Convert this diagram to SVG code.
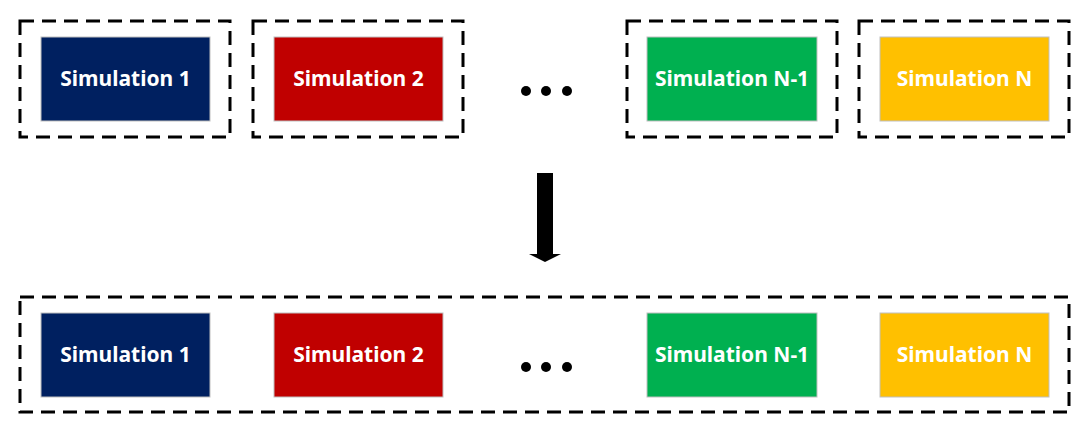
<svg xmlns="http://www.w3.org/2000/svg" width="1090" height="433" viewBox="0 0 1090 433">
<style>
.dash{fill:none;stroke:#000;stroke-width:3;stroke-dasharray:14,8}
.n{stroke:#bfbfbf;stroke-width:1}
.t{font-family:"Noto Sans","Liberation Sans",sans-serif;font-weight:bold;font-size:21px;fill:#fff;text-anchor:middle;dominant-baseline:central}
</style>
<rect width="1090" height="433" fill="#fff"/>
<g id="groups">
<rect class="dash" x="20" y="21" width="210" height="116"/>
<rect class="dash" x="253" y="21" width="210" height="116"/>
<rect class="dash" x="627" y="21" width="210" height="116"/>
<rect class="dash" x="859" y="21" width="210" height="116"/>
<rect class="dash" x="20" y="297" width="1049" height="115"/>
</g>
<g id="top1"><rect class="n" x="41" y="37" width="169" height="84" fill="#002060"/><text class="t" x="125.5" y="78">Simulation 1</text></g>
<g id="top2"><rect class="n" x="274" y="37" width="169" height="84" fill="#c00000"/><text class="t" x="358.5" y="78">Simulation 2</text></g>
<g id="top3"><rect class="n" x="647" y="37" width="170" height="84" fill="#00b050"/><text class="t" x="732" y="78">Simulation N-1</text></g>
<g id="top4"><rect class="n" x="880" y="37" width="169" height="84" fill="#ffc000"/><text class="t" x="964.5" y="78">Simulation N</text></g>
<g id="bot1"><rect class="n" x="41" y="313" width="169" height="84" fill="#002060"/><text class="t" x="125.5" y="354">Simulation 1</text></g>
<g id="bot2"><rect class="n" x="274" y="313" width="169" height="84" fill="#c00000"/><text class="t" x="358.5" y="354">Simulation 2</text></g>
<g id="bot3"><rect class="n" x="647" y="313" width="170" height="84" fill="#00b050"/><text class="t" x="732" y="354">Simulation N-1</text></g>
<g id="bot4"><rect class="n" x="880" y="313" width="169" height="84" fill="#ffc000"/><text class="t" x="964.5" y="354">Simulation N</text></g>
<g id="dots" fill="#000">
<circle cx="526" cy="91" r="5"/><circle cx="546" cy="91" r="5"/><circle cx="567" cy="91" r="5"/>
<circle cx="526" cy="367" r="5"/><circle cx="546" cy="367" r="5"/><circle cx="567" cy="367" r="5"/>
</g>
<g id="connectors">
<polygon points="537,173 553,173 553,254 561,254 545,262 529,254 537,254" fill="#000"/>
</g>
</svg>
